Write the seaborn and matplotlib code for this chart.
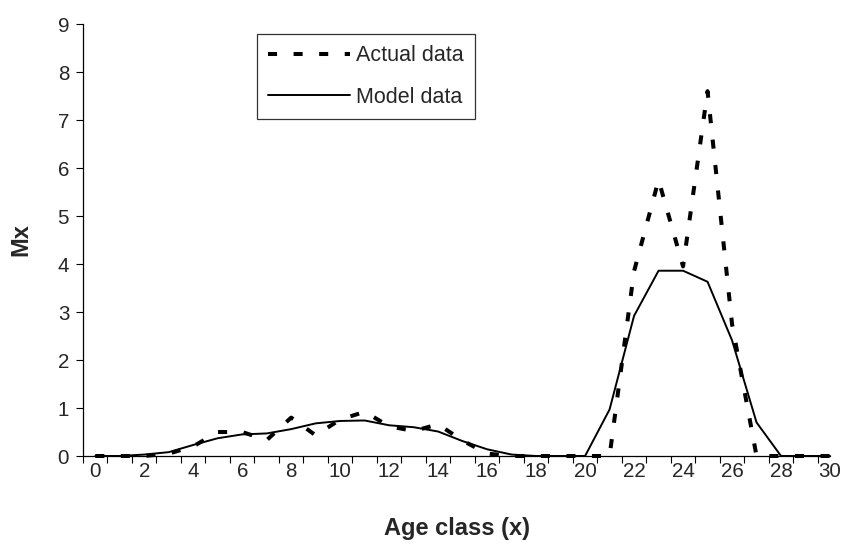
import numpy as np
import pandas as pd
import matplotlib
matplotlib.use("Agg")
import matplotlib.pyplot as plt
import seaborn as sns

age_class = list(range(0, 31))
actual_mx = [0, 0, 0, 0.05, 0.2, 0.5, 0.5, 0.33, 0.8, 0.43, 0.76, 0.92, 0.62, 0.52, 0.66,
             0.32, 0.05, 0, 0, 0, 0, 0, 3.85, 5.75, 3.95, 7.6, 2.75, 0, 0, 0, 0]
model_mx = [0, 0, 0.03, 0.08, 0.23, 0.37, 0.45, 0.47, 0.56, 0.68, 0.73, 0.74, 0.64, 0.6, 0.51,
            0.31, 0.14, 0.03, 0, 0, 0, 0.97, 2.92, 3.86, 3.86, 3.63, 2.41, 0.7, 0, 0, 0]
series_names = ["Actual data", "Model data"]
x_tick_labels = [str(v) for v in range(0, 31, 2)]

sns.set_style("ticks")
plt.rcParams['font.family'] = ['Liberation Sans', 'DejaVu Sans']

df_actual = pd.DataFrame({"x": age_class, "y": actual_mx})
df_model = pd.DataFrame({"x": age_class, "y": model_mx})

fig = plt.figure(figsize=(8.43, 5.52), dpi=100)
ax = fig.add_axes([83/843, 1 - 456/552, 747/843, 432/552])

sns.lineplot(data=df_actual, x="x", y="y", ax=ax, color="black", linewidth=2.9,
             linestyle=(0, (2.25, 4.1)), label=series_names[0], clip_on=False)
sns.lineplot(data=df_model, x="x", y="y", ax=ax, color="black", linewidth=1.4,
             label=series_names[1], clip_on=False)

ax.set_xlim(-0.5, 30)
ax.set_ylim(0, 9)
ax.set_yticks(range(0, 10))
ax.set_xticks(range(0, 31, 2))
ax.set_xticklabels(x_tick_labels)
ax.set_xticks(np.arange(-0.5, 30, 1), minor=True)
ax.tick_params(axis="x", which="major", length=0, labelsize=14.8, pad=4)
ax.tick_params(axis="x", which="minor", length=5, width=0.8, color="black", direction="out")
ax.tick_params(axis="y", which="major", length=5, width=0.8, color="black", labelsize=14.8, pad=5)

for s in ["top", "right"]:
    ax.spines[s].set_visible(False)
for s in ["left", "bottom"]:
    ax.spines[s].set_color("black")
    ax.spines[s].set_linewidth(0.9)

ax.set_xlabel("Age class (x)", fontsize=17, fontweight="bold", labelpad=26)
ax.set_ylabel("Mx", fontsize=17, fontweight="bold", labelpad=18)

leg = ax.legend(loc="upper left", bbox_to_anchor=((256.5 - 83) / 747, (456 - 34.2) / 432),
                borderaxespad=0, frameon=True, fancybox=False, fontsize=15.5,
                handlelength=3.8, handletextpad=0.3, borderpad=0.52, labelspacing=0.95)
leg.get_frame().set_edgecolor("black")
leg.get_frame().set_linewidth(0.9)

fig.savefig("out.png", dpi=100, facecolor="white")
